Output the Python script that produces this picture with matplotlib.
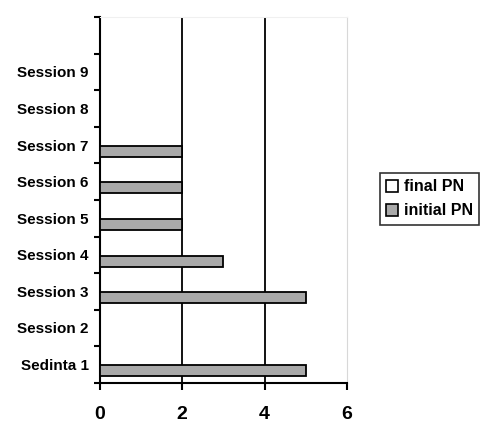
import numpy as np
import matplotlib
matplotlib.use('Agg')
import matplotlib.pyplot as plt

sessions = ['Sedinta 1', 'Session 2', 'Session 3', 'Session 4', 'Session 5',
            'Session 6', 'Session 7', 'Session 8', 'Session 9']
initial_pn = [5, 0, 5, 3, 2, 2, 2, 0, 0]
final_pn = [0, 0, 0, 0, 0, 0, 0, 0, 0]
x_ticks = [0, 2, 4, 6]

plt.rcParams['font.family'] = ['Liberation Sans', 'DejaVu Sans']
plt.rcParams['font.weight'] = 'bold'

fig = plt.figure(figsize=(4.8, 4.24), dpi=100)
ax = fig.add_axes([0.208, 0.097, 0.515, 0.863])

y = np.arange(len(sessions))
h = 0.3
ax.barh(y - 0.17, initial_pn, height=h, color='#a9a9a9', edgecolor='black',
        linewidth=1.3, label='initial PN', zorder=3)
ax.barh(y + 0.17, final_pn, height=h, color='white', edgecolor='black',
        linewidth=0, label='final PN', zorder=3)

ax.set_xlim(0, 6)
ax.set_ylim(-0.5, len(sessions) + 0.5)
ax.set_xticks(x_ticks)
ax.set_xticklabels([str(t) for t in x_ticks], fontsize=14, fontweight='bold')

# ticks at category boundaries, labels at centres
ax.set_yticks(np.arange(-0.5, len(sessions) + 0.6, 1))
ax.set_yticklabels([])
ax.set_yticks(y, minor=True)
ax.set_yticklabels(sessions, minor=True, fontsize=11, fontweight='bold')
ax.tick_params(axis='y', which='major', direction='out', length=4, width=1.5)
ax.tick_params(axis='y', which='minor', length=0, pad=8)
ax.tick_params(axis='x', direction='out', length=5, width=1.5, pad=12)

for v in [2, 4]:
    ax.axvline(v, color='black', linewidth=1.3, zorder=2)

ax.spines['left'].set_linewidth(1.5)
ax.spines['bottom'].set_linewidth(1.5)
ax.spines['right'].set_color('#d8d8d8')
ax.spines['top'].set_color('#f0f0f0')

handles, labels = ax.get_legend_handles_labels()
leg = fig.legend(handles[::-1], labels[::-1], loc='center left',
                 bbox_to_anchor=(0.775, 0.531), frameon=True, fancybox=False,
                 edgecolor='black', fontsize=11.5, handlelength=0.75, handleheight=0.75,
                 handletextpad=0.35, borderpad=0.4, labelspacing=0.55)
leg.get_frame().set_linewidth(1.2)
for p in leg.get_patches():
    p.set_edgecolor('black')
    p.set_linewidth(1.2)

fig.savefig('out.png', dpi=100)
